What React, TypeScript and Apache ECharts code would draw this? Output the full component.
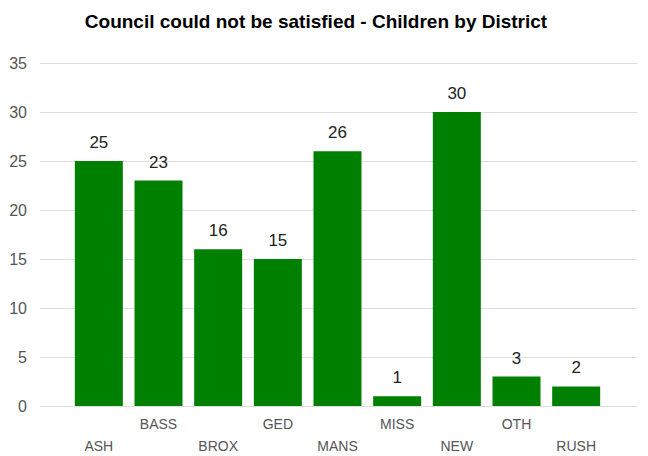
import React, { useEffect, useRef } from "react";
import * as echarts from "echarts";

const titleText = "Council could not be satisfied - Children by District";
const districts = ["ASH", "BASS", "BROX", "GED", "MANS", "MISS", "NEW", "OTH", "RUSH"];
const children = [25, 23, 16, 15, 26, 1, 30, 3, 2];
const yMin = 0;
const yMax = 35;
const yStep = 5;

const FONT = "Arial, 'Liberation Sans', sans-serif";

const labelAxis = (margin: number, showEven: boolean) => ({
  type: "category",
  gridIndex: 1,
  position: "bottom",
  data: districts,
  axisLine: { show: false },
  axisTick: { show: false },
  splitLine: { show: false },
  axisLabel: {
    interval: 0,
    margin,
    fontFamily: FONT,
    fontSize: 14,
    color: "#555555",
    formatter: (v: string, i: number) => ((i % 2 === 0) === showEven ? v : ""),
  },
});

export default function App() {
  const ref = useRef<HTMLDivElement>(null);
  useEffect(() => {
    document.body.style.margin = "0";
    if (!ref.current) return;
    const chart = echarts.init(ref.current, null, { renderer: "svg" });
    chart.setOption({
      animation: false,
      backgroundColor: "#ffffff",
      title: {
        text: titleText,
        left: 311,
        textAlign: "center",
        top: 7,
        textStyle: { fontFamily: FONT, fontSize: 19, fontWeight: "bold", color: "#000000" },
      },
      grid: [
        { left: 40, right: 11, top: 63, bottom: 50, containLabel: false, outerBoundsMode: "none" },
        { left: 69, right: 42, top: 63, bottom: 50, containLabel: false, outerBoundsMode: "none" },
      ],
      xAxis: [
        {
          type: "category",
          gridIndex: 0,
          data: districts,
          show: false,
        },
        labelAxis(33, true),
        labelAxis(11, false),
      ],
      yAxis: [
        {
          type: "value",
          gridIndex: 0,
          min: yMin,
          max: yMax,
          interval: yStep,
          axisLine: { show: false },
          axisTick: { show: false },
          axisLabel: { fontFamily: FONT, fontSize: 16, color: "#555555", margin: 13 },
          splitLine: { lineStyle: { color: "#dddddd", width: 1 } },
        },
        {
          type: "value",
          gridIndex: 1,
          min: yMin,
          max: yMax,
          interval: yStep,
          show: false,
          splitLine: { show: false },
        },
      ],
      series: [
        {
          type: "bar",
          xAxisIndex: 1,
          yAxisIndex: 1,
          data: children,
          barWidth: 48,
          itemStyle: { color: "#008000" },
          label: {
            show: true,
            position: "top",
            distance: 10,
            fontFamily: FONT,
            fontSize: 17,
            color: "#222222",
          },
        },
      ],
    });
    return () => chart.dispose();
  }, []);
  return <div ref={ref} style={{ width: 648, height: 456 }} />;
}
